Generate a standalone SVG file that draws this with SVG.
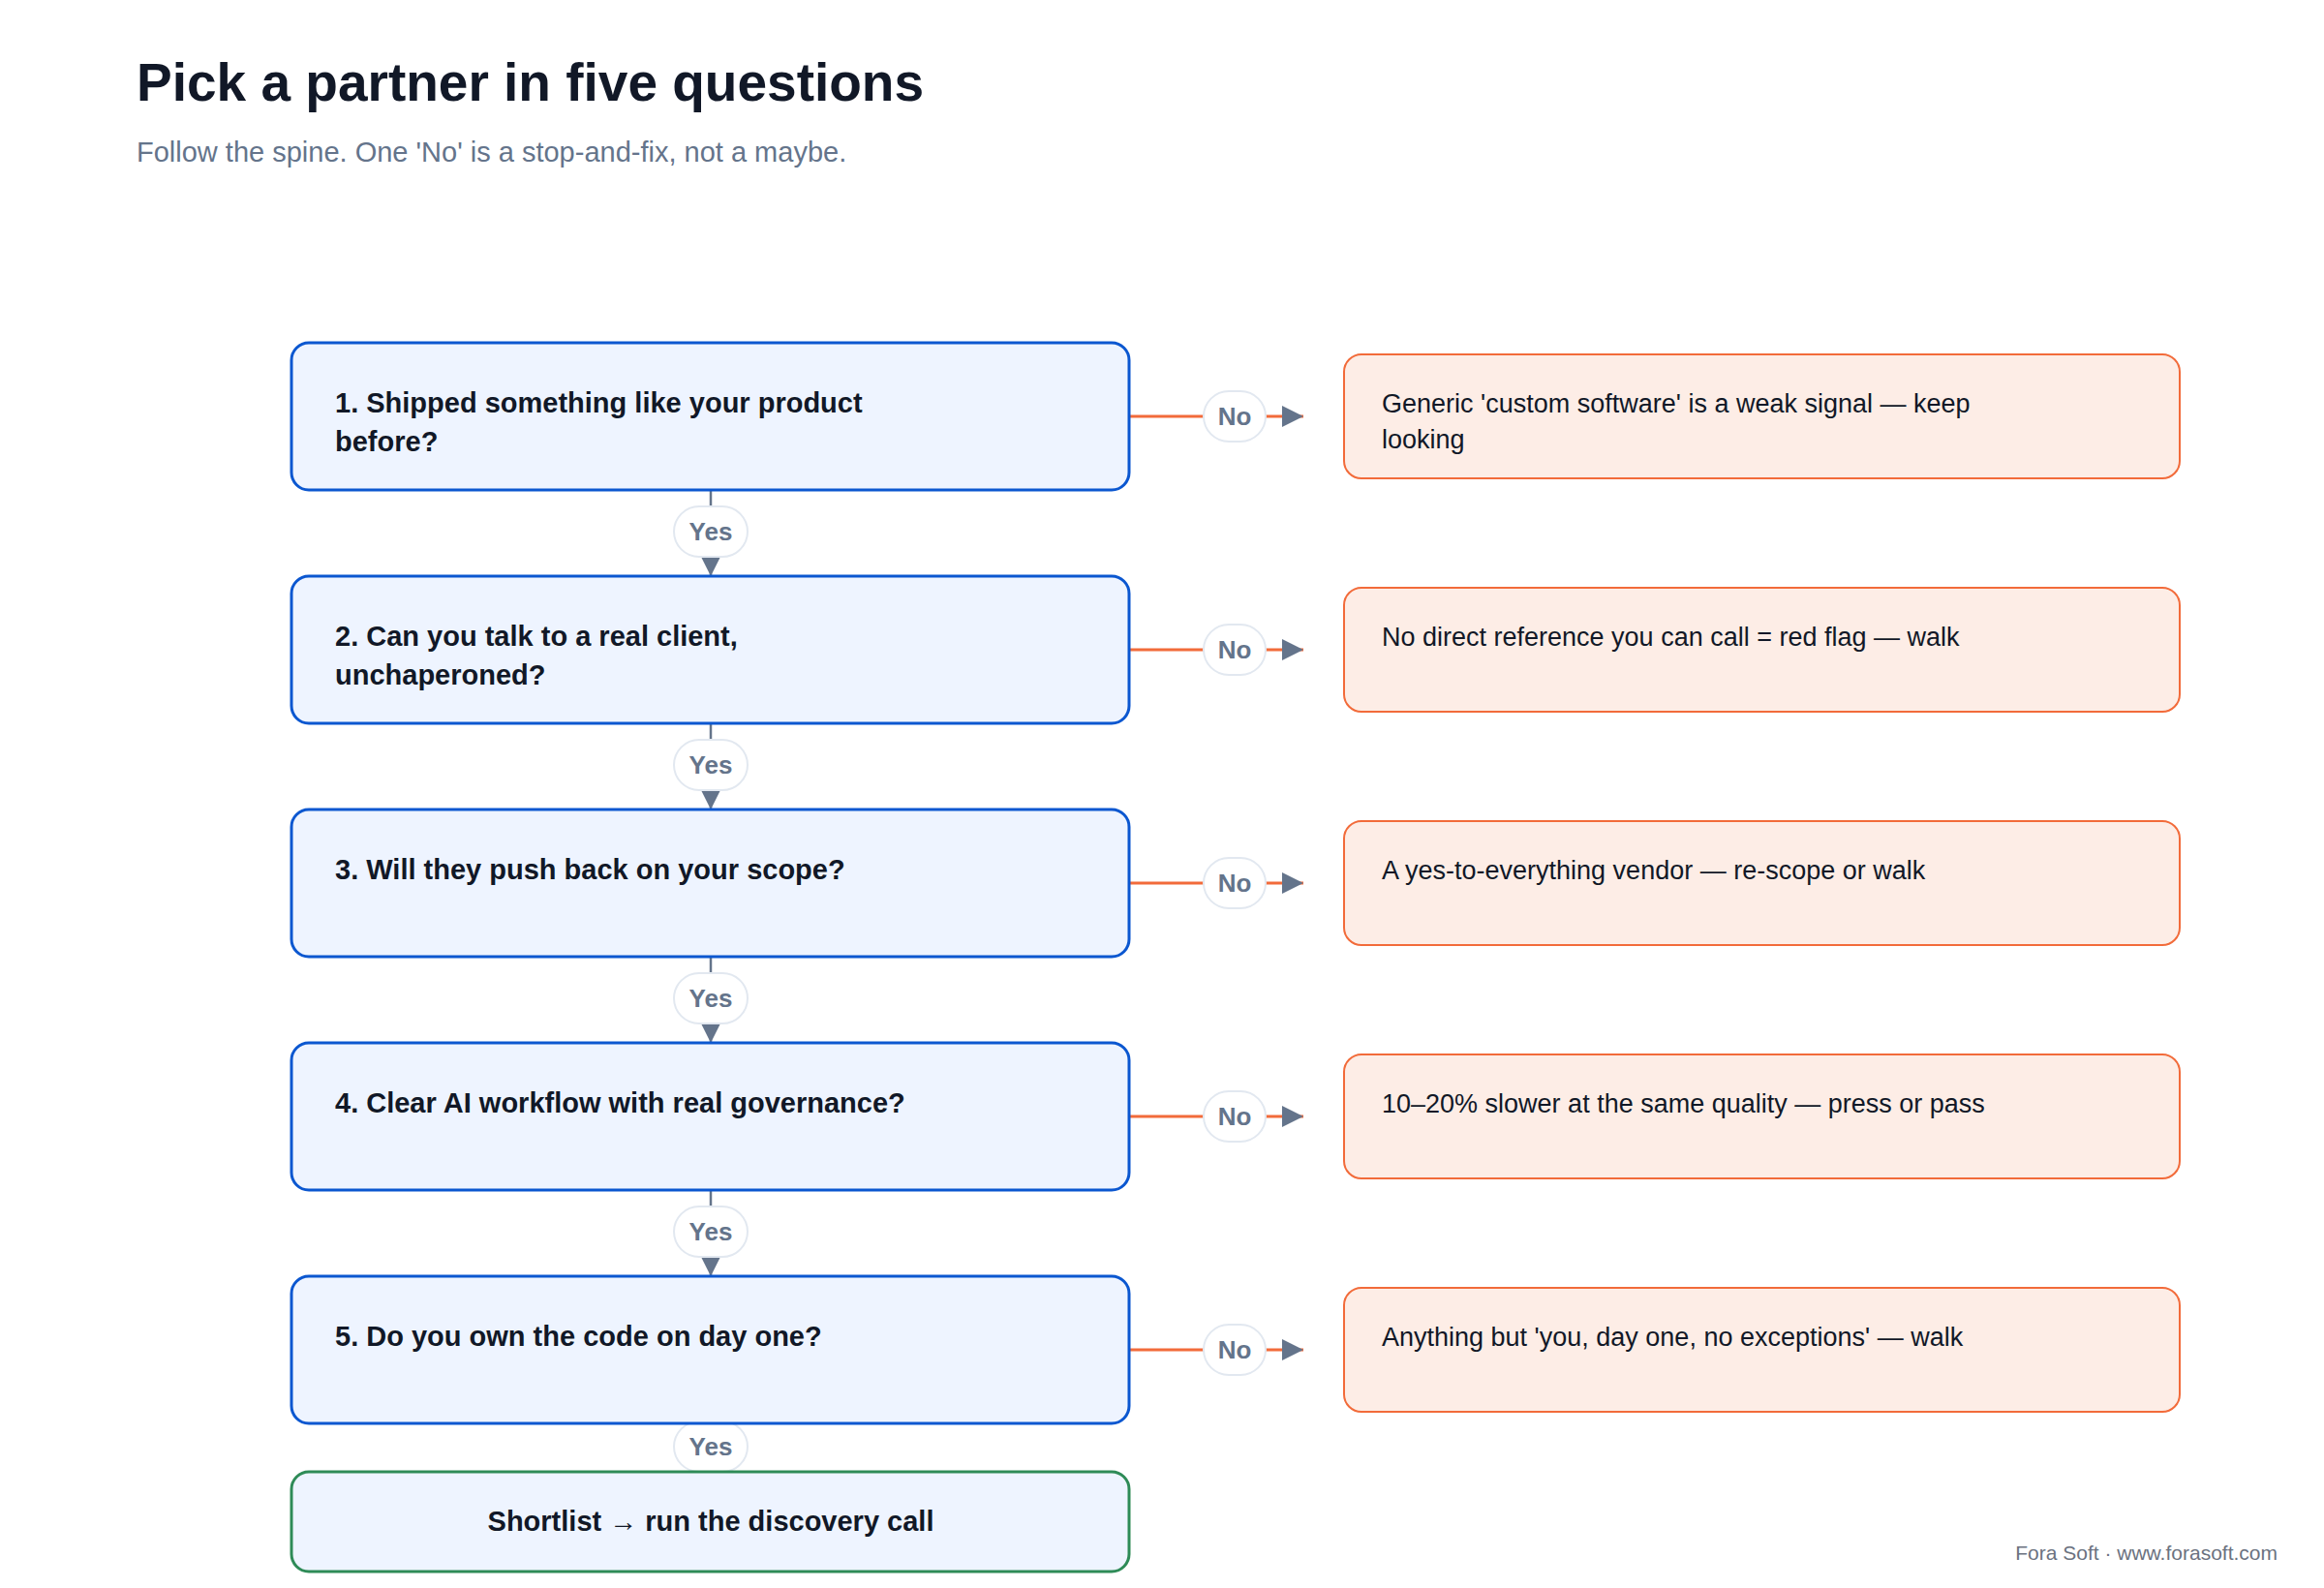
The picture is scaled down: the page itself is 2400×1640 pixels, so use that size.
<svg xmlns="http://www.w3.org/2000/svg" width="2400" height="1640" viewBox="0 0 2400 1640">
<defs>
<style>
text{font-family:"Liberation Sans",Arial,sans-serif}
.q{fill:#eef4ff;stroke:#0b57d0;stroke-width:3}
.end{fill:#eef4ff;stroke:#2e8b57;stroke-width:3}
.r{fill:#fdede6;stroke:#f26b3a;stroke-width:2}
.qt{font-size:29px;font-weight:bold;fill:#111827}
.rt{font-size:27px;fill:#111827}
.spine{stroke:#64748b;stroke-width:2.5;fill:none}
.no{stroke:#f26b3a;stroke-width:3;fill:none}
.pill{fill:#fff;stroke:#e2e8f0;stroke-width:2}
.pt{font-size:26px;font-weight:bold;fill:#64748b;text-anchor:middle}
</style>
<marker id="ah" viewBox="0 0 10 10" refX="10" refY="5" markerWidth="10" markerHeight="10" markerUnits="userSpaceOnUse" orient="auto"><path d="M0,0L10,5L0,10z" fill="#64748b"/></marker>
<marker id="ahs" viewBox="0 0 10 10" refX="10" refY="5" markerWidth="22" markerHeight="24" markerUnits="userSpaceOnUse" orient="auto"><path d="M0,0L10,5L0,10z" fill="#64748b"/></marker>
</defs>
<rect width="2400" height="1640" fill="#fff"/>
<text x="141" y="104" font-size="55" font-weight="bold" fill="#111827">Pick a partner in five questions</text>
<text x="141" y="167" font-size="29" fill="#64748b">Follow the spine. One 'No' is a stop-and-fix, not a maybe.</text>

<g id="connectors">
<path class="spine" d="M734 506V595" marker-end="url(#ahs)"/>
<path class="spine" d="M734 747V836" marker-end="url(#ahs)"/>
<path class="spine" d="M734 988V1077" marker-end="url(#ahs)"/>
<path class="spine" d="M734 1229V1318" marker-end="url(#ahs)"/>
<path class="spine" d="M734 1470V1520"/>
<rect class="pill" x="696" y="523" width="76" height="52" rx="26"/><text class="pt" x="734" y="558">Yes</text>
<rect class="pill" x="696" y="764" width="76" height="52" rx="26"/><text class="pt" x="734" y="799">Yes</text>
<rect class="pill" x="696" y="1005" width="76" height="52" rx="26"/><text class="pt" x="734" y="1040">Yes</text>
<rect class="pill" x="696" y="1246" width="76" height="52" rx="26"/><text class="pt" x="734" y="1281">Yes</text>
<rect class="pill" x="696" y="1468" width="76" height="52" rx="26"/><text class="pt" x="734" y="1503">Yes</text>
<g id="no-edges">
<path class="no" d="M1166 430H1346" marker-end="url(#ahs)"/>
<path class="no" d="M1166 671H1346" marker-end="url(#ahs)"/>
<path class="no" d="M1166 912H1346" marker-end="url(#ahs)"/>
<path class="no" d="M1166 1153H1346" marker-end="url(#ahs)"/>
<path class="no" d="M1166 1394H1346" marker-end="url(#ahs)"/>
<rect class="pill" x="1243" y="404" width="64" height="52" rx="26"/><text class="pt" x="1275" y="439">No</text>
<rect class="pill" x="1243" y="645" width="64" height="52" rx="26"/><text class="pt" x="1275" y="680">No</text>
<rect class="pill" x="1243" y="886" width="64" height="52" rx="26"/><text class="pt" x="1275" y="921">No</text>
<rect class="pill" x="1243" y="1127" width="64" height="52" rx="26"/><text class="pt" x="1275" y="1162">No</text>
<rect class="pill" x="1243" y="1368" width="64" height="52" rx="26"/><text class="pt" x="1275" y="1403">No</text>
</g>
</g>

<g id="q1"><rect class="q" x="301" y="354" width="865" height="152" rx="18"/><text class="qt" x="346" y="426">1. Shipped something like your product</text><text class="qt" x="346" y="466">before?</text></g>
<g id="q2"><rect class="q" x="301" y="595" width="865" height="152" rx="18"/><text class="qt" x="346" y="667">2. Can you talk to a real client,</text><text class="qt" x="346" y="707">unchaperoned?</text></g>
<g id="q3"><rect class="q" x="301" y="836" width="865" height="152" rx="18"/><text class="qt" x="346" y="908">3. Will they push back on your scope?</text></g>
<g id="q4"><rect class="q" x="301" y="1077" width="865" height="152" rx="18"/><text class="qt" x="346" y="1149">4. Clear AI workflow with real governance?</text></g>
<g id="q5"><rect class="q" x="301" y="1318" width="865" height="152" rx="18"/><text class="qt" x="346" y="1390">5. Do you own the code on day one?</text></g>
<g id="end"><rect class="end" x="301" y="1520" width="865" height="103" rx="18"/><text class="qt" x="734" y="1581" text-anchor="middle">Shortlist → run the discovery call</text></g>

<g id="r1"><rect class="r" x="1388" y="366" width="863" height="128" rx="18"/><text class="rt" x="1427" y="426">Generic 'custom software' is a weak signal — keep</text><text class="rt" x="1427" y="463">looking</text></g>
<g id="r2"><rect class="r" x="1388" y="607" width="863" height="128" rx="18"/><text class="rt" x="1427" y="667">No direct reference you can call = red flag — walk</text></g>
<g id="r3"><rect class="r" x="1388" y="848" width="863" height="128" rx="18"/><text class="rt" x="1427" y="908">A yes-to-everything vendor — re-scope or walk</text></g>
<g id="r4"><rect class="r" x="1388" y="1089" width="863" height="128" rx="18"/><text class="rt" x="1427" y="1149">10–20% slower at the same quality — press or pass</text></g>
<g id="r5"><rect class="r" x="1388" y="1330" width="863" height="128" rx="18"/><text class="rt" x="1427" y="1390">Anything but 'you, day one, no exceptions' — walk</text></g>

<text x="2352" y="1611" font-size="21" fill="#6b7280" text-anchor="end">Fora Soft · www.forasoft.com</text>
</svg>
